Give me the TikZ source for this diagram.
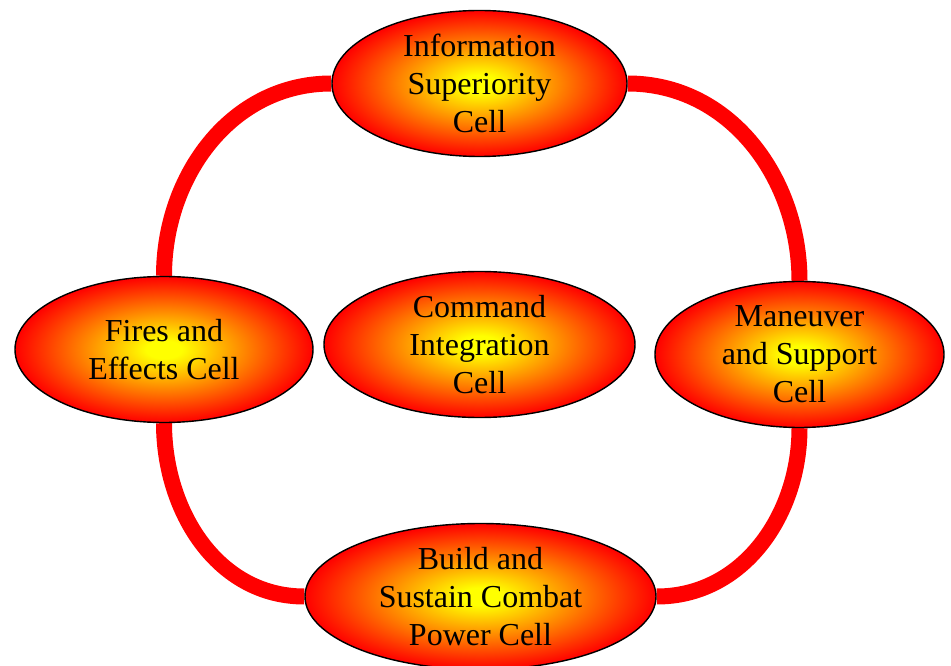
\documentclass[tikz,border=0pt]{standalone}
\usepackage{fontspec}
\setmainfont{Liberation Serif}
\usetikzlibrary{shapes.geometric,backgrounds}
\pgfdeclareradialshading{cellglow}{\pgfpoint{0bp}{0bp}}{color(0bp)=(yellow); color(3bp)=(yellow); color(25bp)=(red); color(50bp)=(red)}

\begin{document}
\begin{tikzpicture}[
  cell/.style={ellipse, draw=black, line width=0.8pt, shading=cellglow, minimum height=2.92cm,
    inner xsep=0pt, inner ysep=-4pt, align=center, font=\fontsize{18.2}{21.6}\selectfont},
  ring/.style={draw=red, line width=0.32cm}
]
  \useasboundingbox (0,0) rectangle (19.02,13.3);
  % Cells
  \node[cell, minimum width=5.9cm]  (info)  at (9.59, 11.63) {Information\\Superiority\\Cell};
  \node[cell, minimum width=5.96cm] (fires) at (3.28, 6.31)  {Fires and\\Effects Cell};
  \node[cell, minimum width=6.22cm] (cmd)   at (9.59, 6.41)  {Command\\Integration\\Cell};
  \node[cell, minimum width=5.78cm] (manv)  at (15.99, 6.21) {Maneuver\\and Support\\Cell};
  \node[cell, minimum width=7.02cm] (build) at (9.61, 1.37)  {Build and\\Sustain Combat\\Power Cell};
  % Ring behind the outer cells
  \begin{scope}[on background layer]
    \draw[ring] (info.west) to[out=180, in=90] (fires.north);
    \draw[ring] (info.east) to[out=0, in=90] (manv.north);
    \draw[ring] (fires.south) to[out=-90, in=180] (build.west);
    \draw[ring] (manv.south) to[out=-90, in=0] (build.east);
  \end{scope}
\end{tikzpicture}
\end{document}
